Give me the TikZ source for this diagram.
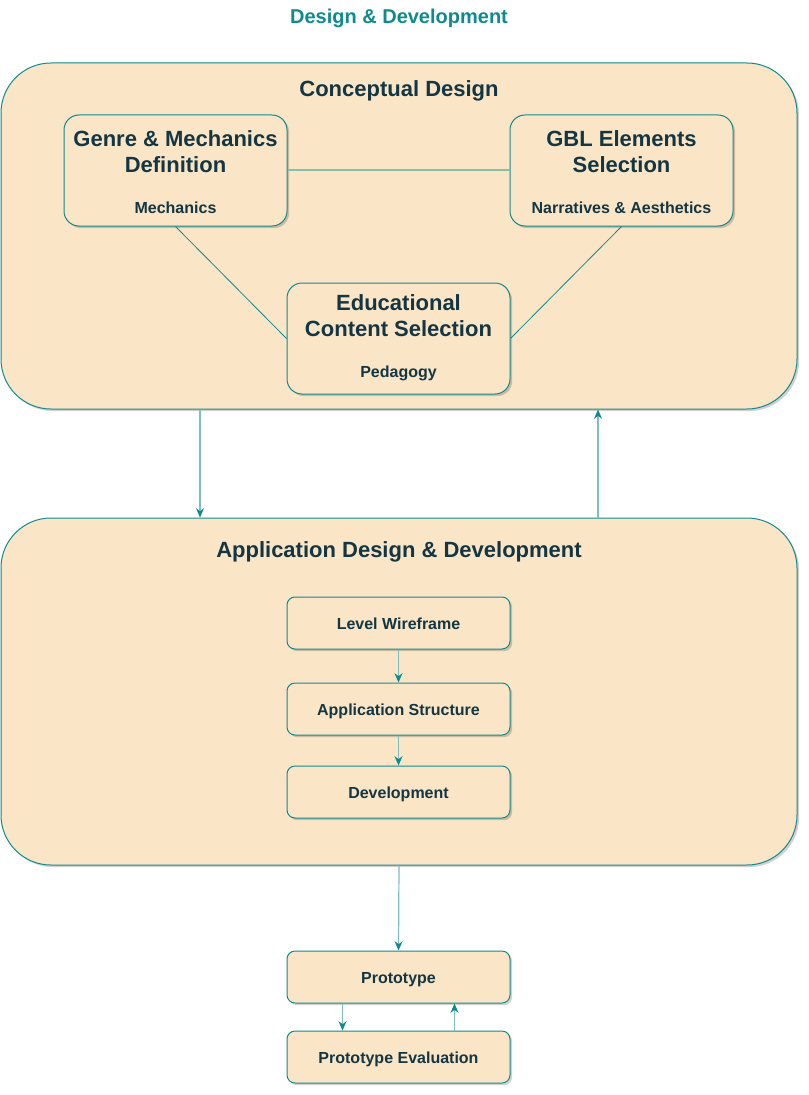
\documentclass[tikz,border=0pt]{standalone}
\usepackage{fontspec}
\setmainfont{Liberation Sans}
\usetikzlibrary{arrows.meta,positioning,shadows}

\definecolor{sand}{HTML}{FAE5C7}
\definecolor{teal0}{HTML}{0F8B8D}
\definecolor{ink}{HTML}{143642}
\definecolor{tealsoft}{HTML}{7BBFC0}
\definecolor{sage}{HTML}{86C0A8}

\begin{document}
\begin{tikzpicture}[x=0.75pt,y=-0.75pt,
		shade/.style={drop shadow={shadow xshift=1.6pt,shadow yshift=-1.6pt,fill=black,opacity=0.18}},
		group/.style={draw=teal0,fill=sand,line width=0.75pt,rounded corners=37.5pt,
			minimum width=597pt,inner sep=0pt,shade},
		card/.style={draw=teal0,fill=sand,line width=0.75pt,rounded corners=11.25pt,
			minimum width=167.25pt,minimum height=83.25pt,inner sep=0pt,shade},
		stepbox/.style={draw=teal0,fill=sand,line width=0.75pt,rounded corners=6pt,
			minimum width=167.25pt,minimum height=39pt,inner sep=0pt,text=ink,
			text height=10pt,text depth=0pt,
			font=\bfseries\fontsize{12}{14.4}\selectfont,shade},
		bigtext/.style={text=ink,align=center,font=\bfseries\fontsize{16.5}{19.5}\selectfont},
		smalltext/.style={text=ink,font=\bfseries\fontsize{12}{14.4}\selectfont},
		flow/.style={draw=tealsoft,line width=0.9pt,-{Stealth[length=7pt,width=6pt,color=teal0]}},
		link/.style={draw=teal0,line width=0.6pt}]
	\useasboundingbox (0,0) rectangle (808,1095);

	\node[text=teal0,font=\bfseries\fontsize{15}{18}\selectfont] (title) at (399,18) {Design \& Development};

	% conceptual design
	\node[group,minimum height=259.5pt] (concept) at (399,236) {};
	\node[bigtext] (concepttitle) at (399,91) {Conceptual Design};
	\node[card] (genre) at (175.5,170.5) {};
	\node[bigtext] (genretitle) at ([yshift=-27.75pt]genre.north) {Genre \& Mechanics\\Definition};
	\node[smalltext] (genresub) at ([yshift=14.25pt]genre.south) {Mechanics};
	\node[card] (gbl) at (621.5,170.5) {};
	\node[bigtext] (gbltitle) at ([yshift=-27.75pt]gbl.north) {GBL Elements\\Selection};
	\node[smalltext] (gblsub) at ([yshift=14.25pt]gbl.south) {Narratives \& Aesthetics};
	\node[card] (edu) at (398.5,338.5) {};
	\node[bigtext] (edutitle) at ([yshift=-24.75pt]edu.north) {Educational\\Content Selection};
	\node[smalltext] (edusub) at ([yshift=15.75pt]edu.south) {Pedagogy};
	\draw[draw=sage,line width=1.5pt] (genre.east) -- (gbl.west);
	\draw[link] (genre.south) -- (edu.west);
	\draw[link] (gbl.south) -- (edu.east);

	% application design
	\node[group,minimum height=260.25pt] (app) at (399,691.5) {};
	\node[bigtext] (apptitle) at (399,552) {Application Design \& Development};
	\node[stepbox] (wire) at (398.5,623) {Level Wireframe};
	\node[stepbox] (struct) at (398.5,709) {Application Structure};
	\node[stepbox] (dev) at (398.5,792) {Development};
	\draw[flow] (wire) -- (struct);
	\draw[flow] (struct) -- (dev);

	\draw[flow] ([xshift=-149.25pt]concept.south) -- ([xshift=-149.25pt]app.north);
	\draw[flow] ([xshift=149.25pt]app.north) -- ([xshift=149.25pt]concept.south);

	% prototype loop
	\node[stepbox] (proto) at (398.5,977) {Prototype};
	\node[stepbox] (eval) at (398.5,1057) {Prototype Evaluation};
	\draw[flow] (app.south) -- (proto.north);
	\draw[flow] ([xshift=-42pt]proto.south) -- ([xshift=-42pt]eval.north);
	\draw[flow] ([xshift=42pt]eval.north) -- ([xshift=42pt]proto.south);
\end{tikzpicture}
\end{document}
